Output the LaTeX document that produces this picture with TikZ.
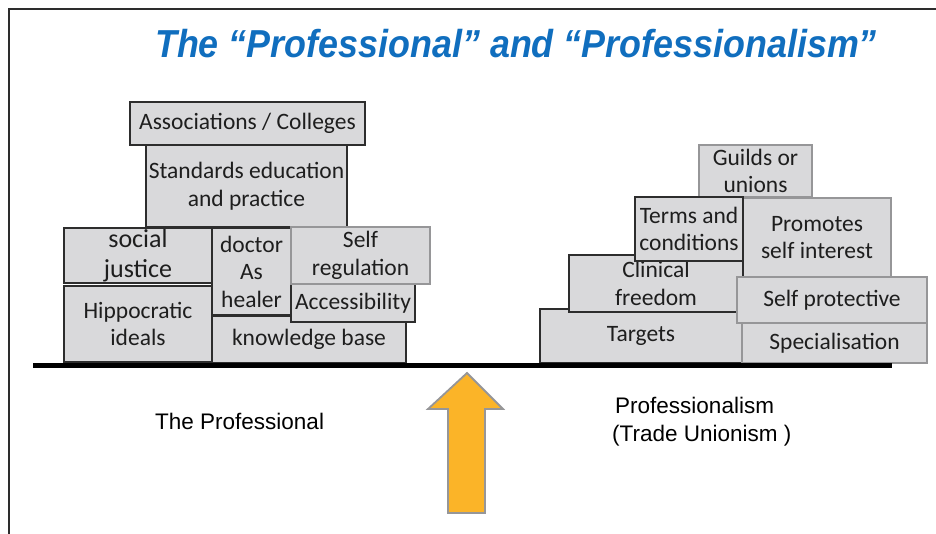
\documentclass[tikz,border=0pt]{standalone}
\usepackage{fontspec}
\setmainfont{Carlito}
\newfontfamily\arialf{Liberation Sans}
\definecolor{boxfill}{RGB}{217,217,219}
\definecolor{darkline}{RGB}{45,45,45}
\definecolor{greyline}{RGB}{150,150,152}
\definecolor{txt}{RGB}{30,30,30}
\definecolor{titleblue}{RGB}{16,110,190}
\definecolor{arrowfill}{RGB}{251,180,40}
\begin{document}
\begin{tikzpicture}[x=1pt,y=-1pt,
  blk/.style={rectangle, fill=boxfill, draw=darkline, line width=1.3pt, inner sep=0pt,
    align=center, text=txt, font=\fontsize{23.5}{27.5}\selectfont},
  gblk/.style={blk, draw=greyline, line width=1.8pt},
  lbl/.style={font=\arialf\fontsize{22.5}{28}\selectfont, text=black, inner sep=0pt, align=left}]
\useasboundingbox (0,0) rectangle (936,534);
% frame
\coordinate (fa) at (9,534);
\coordinate (fb) at (9,9);
\coordinate (fc) at (936,9);
\draw[darkline, line width=2pt] (fa) -- (fb) -- (fc);
% title
\node[font=\arialf\bfseries\itshape\fontsize{39}{42}\selectfont, text=titleblue, inner sep=0pt, xscale=0.92] (title) at (516,44) {The “Professional” and “Professionalism”};
% left stack
\node[blk, minimum width=235pt, minimum height=43pt] (assoc) at (247.5,123.5) {Associations / Colleges};
\node[blk, minimum width=201pt, minimum height=82pt] (stand) at (246.5,186) {Standards education\\and practice};
\node[blk, minimum width=148pt, minimum height=55pt, font=\fontsize{26}{30}\selectfont] (social) at (138,255.5) {social\\justice};
\node[blk, minimum width=148pt, minimum height=76pt] (hippo) at (138,324) {Hippocratic\\ideals};
\node[blk, minimum width=79pt, minimum height=87pt] (doctor) at (251.5,271.5) {doctor\\As\\healer};
\node[blk, minimum width=194pt, minimum height=47pt] (knowl) at (309,339.5) {knowledge base};
\node[blk, minimum width=124pt, minimum height=38pt] (access) at (353,303) {Accessibility};
\node[gblk, minimum width=139pt, minimum height=57pt] (selfreg) at (360.5,255.5) {Self\\regulation};
% right stack
\node[gblk, minimum width=113pt, minimum height=52pt] (guilds) at (755.5,171) {Guilds or\\unions};
\node[gblk, minimum width=148pt, minimum height=79pt] (promo) at (817,237.5) {Promotes\\self interest};
\node[blk, minimum width=202pt, minimum height=54pt] (targets) at (641,336) {Targets};
\node[blk, minimum width=174pt, minimum height=57pt] (clinical) at (656,283.5) {Clinical\\freedom};
\node[blk, minimum width=108pt, minimum height=64pt] (terms) at (689,229) {Terms and\\conditions};
\node[gblk, minimum width=185pt, minimum height=40pt] (special) at (834.5,343) {Specialisation};
\node[gblk, minimum width=190pt, minimum height=46pt] (selfprot) at (832,300) {Self protective};
% ground line
\coordinate (g1) at (33,365);
\coordinate (g2) at (892,365);
\draw[black, line width=5pt] (g1) -- (g2);
% arrow
\draw[fill=arrowfill, draw=greyline, line width=1.8pt, line join=miter]
  (467,373) -- (503,409) -- (485,409) -- (485,513) -- (448,513) -- (448,409) -- (428,409) -- cycle;
% labels
\node[lbl, anchor=west] (lprof) at (155,421) {The Professional};
\node[lbl, anchor=west] (rprof) at (612,422) {\hspace*{3pt}Professionalism\\(Trade Unionism )};
\end{tikzpicture}
\end{document}
